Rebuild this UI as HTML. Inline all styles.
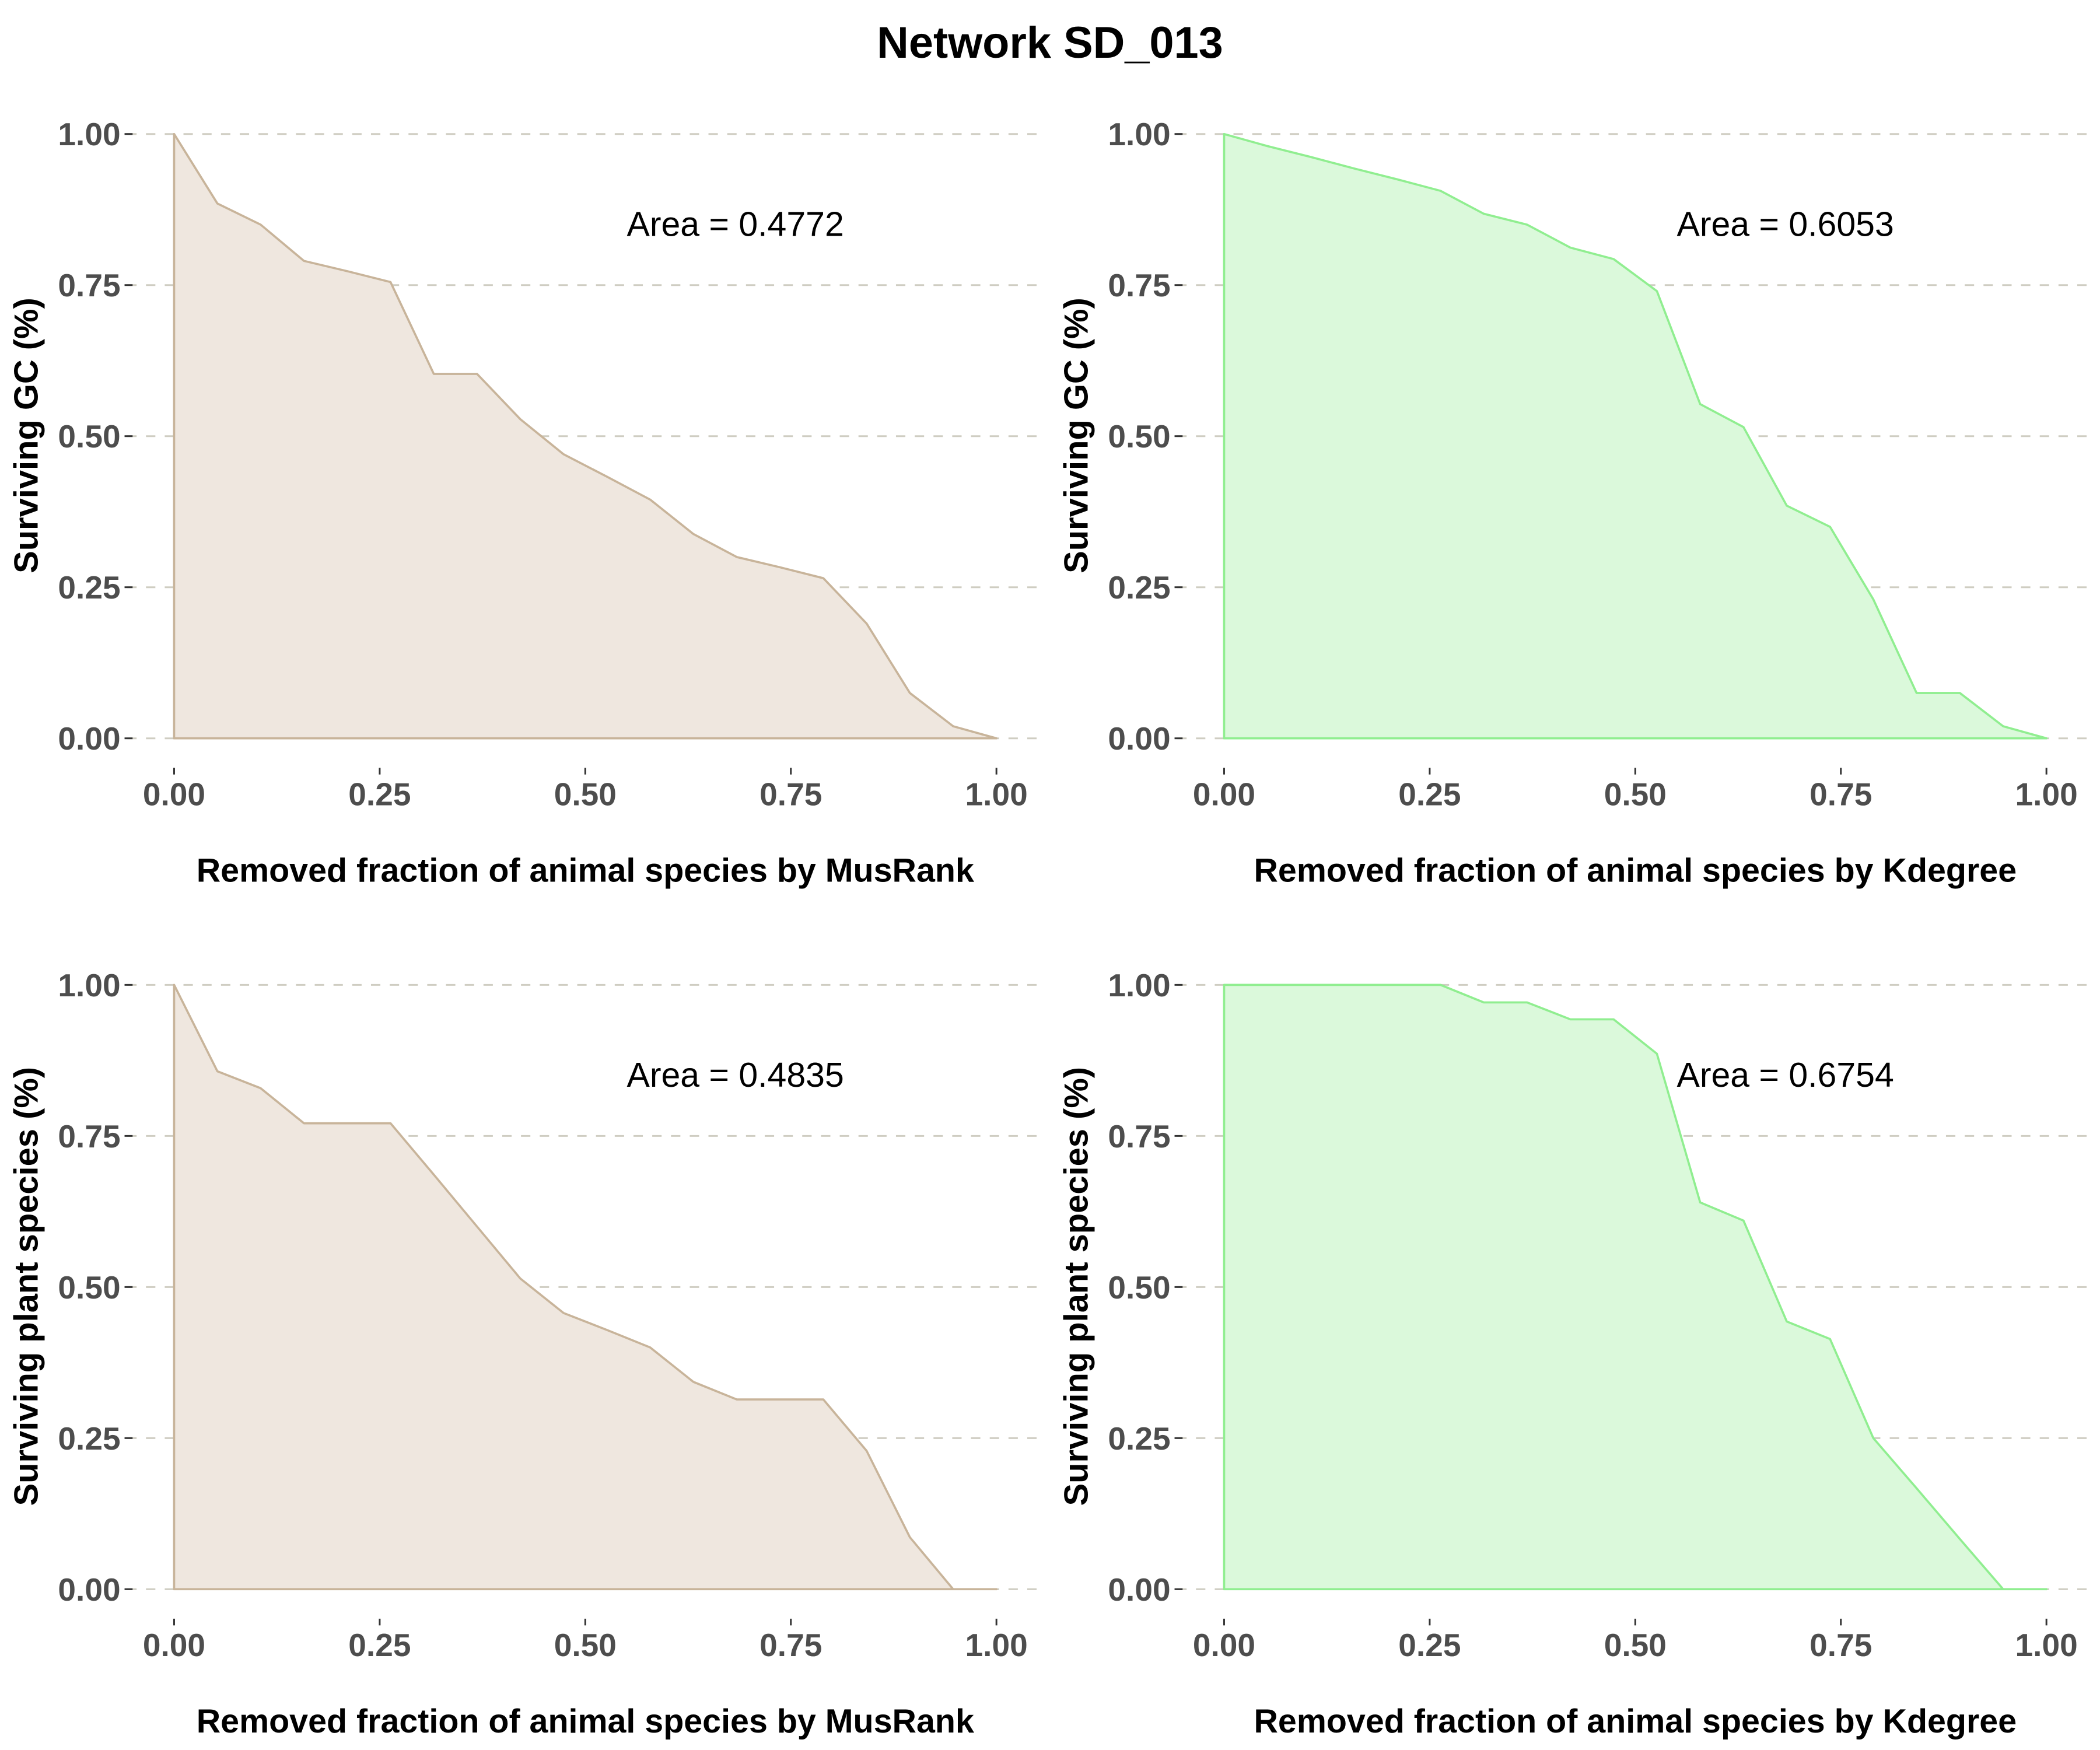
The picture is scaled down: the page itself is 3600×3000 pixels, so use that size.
<!DOCTYPE html>
<html><head><meta charset="utf-8"><style>html,body{margin:0;padding:0;background:#fff}svg{display:block}</style></head>
<body>
<svg id="chart" width="3600" height="3000" viewBox="0 0 1568 1306" preserveAspectRatio="none" xmlns="http://www.w3.org/2000/svg" font-family="Liberation Sans, sans-serif">
<text x="784" y="43" text-anchor="middle" font-size="33" font-weight="bold" fill="#000">Network SD_013</text>
</svg>
<script>
const xTicks = [0, 0.25, 0.5, 0.75, 1];
const yTicks = [0, 0.25, 0.5, 0.75, 1];
const tickLabels = ["0.00", "0.25", "0.50", "0.75", "1.00"];
const steps = 19;
const musrankGC = [1, 0.885, 0.85, 0.79, 0.773, 0.755, 0.603, 0.603, 0.528, 0.47, 0.433, 0.395, 0.338, 0.30, 0.283, 0.265, 0.19, 0.075, 0.02, 0];
const kdegreeGC = [1, 0.98, 0.962, 0.943, 0.925, 0.906, 0.868, 0.85, 0.812, 0.793, 0.74, 0.553, 0.515, 0.385, 0.35, 0.23, 0.075, 0.075, 0.02, 0];
const musrankPlant = [1, 0.857, 0.829, 0.771, 0.771, 0.771, 0.686, 0.6, 0.514, 0.457, 0.429, 0.4, 0.343, 0.314, 0.314, 0.314, 0.229, 0.086, 0, 0];
const kdegreePlant = [1, 1, 1, 1, 1, 1, 0.971, 0.971, 0.943, 0.943, 0.886, 0.64, 0.61, 0.443, 0.414, 0.25, 0.167, 0.083, 0, 0];
const areaLabels = ["Area = 0.4772", "Area = 0.6053", "Area = 0.4835", "Area = 0.6754"];
const xTitles = ["Removed fraction of animal species by MusRank", "Removed fraction of animal species by Kdegree"];
const yTitles = ["Surviving GC (%)", "Surviving plant species (%)"];

const NS = "http://www.w3.org/2000/svg";
const svg = document.getElementById('chart');
function mk(tag, attrs, parent) {
  const e = document.createElementNS(NS, tag);
  for (const k in attrs) e.setAttribute(k, attrs[k]);
  (parent || svg).appendChild(e);
  return e;
}
const panels = [
  {x0:130, y0:100, vals:musrankGC, line:"#c8b49a", fill:"#efe7df", area:0, xt:0, yt:0, name:"musrank-gc"},
  {x0:914, y0:100, vals:kdegreeGC, line:"#90ee90", fill:"#dbf9db", area:1, xt:1, yt:0, name:"kdegree-gc"},
  {x0:130, y0:735, vals:musrankPlant, line:"#c8b49a", fill:"#efe7df", area:2, xt:0, yt:1, name:"musrank-plant"},
  {x0:914, y0:735, vals:kdegreePlant, line:"#90ee90", fill:"#dbf9db", area:3, xt:1, yt:1, name:"kdegree-plant"}
];
const W = 614, H = 451;
panels.forEach(p => {
  const g = mk('g', {});
  
  
  const sx = v => p.x0 + v * W;
  const sy = v => p.y0 + (1 - v) * H;
  yTicks.forEach((t, i) => {
    const gl = mk('line', {x1: p.x0 - 35, x2: p.x0 + 645, y1: sy(t), y2: sy(t), stroke: "#cfcdc2", "stroke-width": 1.3, "stroke-dasharray": "7,7"}, g);
    
    
    const tk = mk('line', {x1: p.x0 - 37, x2: p.x0 - 31, y1: sy(t), y2: sy(t), stroke: "#333", "stroke-width": 1.3}, g);
    
    
    const lb = mk('text', {x: p.x0 - 40, y: sy(t) + 8.5, "text-anchor": "end", "font-size": 24, "font-weight": "bold", fill: "#4d4d4d"}, g);
    
    
    lb.textContent = tickLabels[i];
  });
  xTicks.forEach((t, i) => {
    const tk = mk('line', {x1: sx(t), x2: sx(t), y1: p.y0 + H + 22, y2: p.y0 + H + 27, stroke: "#333", "stroke-width": 1.3}, g);
    
    
    const lb = mk('text', {x: sx(t), y: p.y0 + H + 50, "text-anchor": "middle", "font-size": 24, "font-weight": "bold", fill: "#4d4d4d"}, g);
    
    
    lb.textContent = tickLabels[i];
  });
  let d = "M" + sx(0) + "," + sy(0);
  p.vals.forEach((v, k) => { d += " L" + sx(k / steps) + "," + sy(v); });
  d += " Z";
  const ar = mk('path', {d: d, fill: p.fill, stroke: p.line, "stroke-width": 1.6, "stroke-linejoin": "round"}, g);
  
  
  const at = mk('text', {x: p.x0 + 338, y: p.y0 + 76, "font-size": 25.7, fill: "#000"}, g);
  
  
  at.textContent = areaLabels[p.area];
  const xt = mk('text', {x: p.x0 + 307, y: p.y0 + H + 107, "text-anchor": "middle", "font-size": 25, "font-weight": "bold", fill: "#000"}, g);
  
  
  xt.textContent = xTitles[p.xt];
  const cy = p.y0 + 225;
  const yt = mk('text', {x: p.x0 - 102, y: cy, "text-anchor": "middle", "font-size": 25.2, "font-weight": "bold", fill: "#000", transform: "rotate(-90 " + (p.x0 - 102) + " " + cy + ")"}, g);
  
  
  yt.textContent = yTitles[p.yt];
});
</script>
</body></html>
